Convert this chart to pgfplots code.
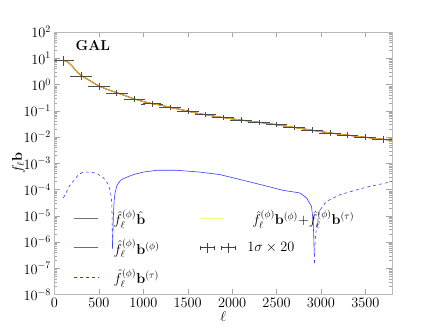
\documentclass[border=0pt]{standalone}
\usepackage{pgfplots}
\pgfplotsset{compat=1.18}
\begin{document}
\begin{tikzpicture}
\definecolor{gold}{RGB}{212,178,36}
\definecolor{paleyel}{RGB}{250,250,120}
\definecolor{taublue}{RGB}{50,60,255}
\path[use as bounding box] (-54.5bp,-32bp) rectangle (381.5bp,294.5bp);
\begin{axis}[
  at={(0,0)}, anchor=south west,
  scale only axis,
  width=337.5bp, height=262.5bp,
  ymode=log,
  xmin=0, xmax=3800,
  ymin=1e-8, ymax=1e2,
  xtick={0,500,...,3500},
  ytick={1e-8,1e-7,1e-6,1e-5,1e-4,1e-3,1e-2,1e-1,1,1e1,1e2},
  /pgf/number format/1000 sep={},
  axis line style={gray!55},
  every tick/.style={gray!70},
  major tick length=5.5bp,
  minor tick length=3bp,
  tick label style={font=\fontsize{14.4}{17}\selectfont},
  label style={font=\fontsize{14.4}{17}\selectfont},
  xlabel={$\ell$},
  ylabel={$f_{\ell}\mathbf{b}$},
  ylabel style={yshift=-8bp},
  xlabel style={yshift=3bp},
  legend columns=2,
  legend cell align=left,
  legend style={draw=none, fill=none, font=\fontsize{14.4}{17}\selectfont,
    inner sep=0pt,
    at={(rel axis cs:0.055,0.33)}, anchor=north west,
    row sep=9bp,
    /tikz/every even column/.append style={column sep=38bp}},
]

% f^(phi) b-hat (black, under the total)
\addplot[black!70, line width=0.9pt, forget plot] coordinates {
(100,8.4) (150,7.2) (200,5.0) (250,3.1) (300,2.2) (350,1.75) (400,1.4) (450,1.1)
(500,0.87) (600,0.64) (700,0.49) (800,0.37) (900,0.28) (1000,0.225) (1100,0.185)
(1200,0.163) (1300,0.135) (1400,0.115) (1500,0.097) (1600,0.081) (1800,0.062)
(2000,0.049) (2200,0.040) (2400,0.033) (2600,0.026) (2800,0.0205) (3000,0.0160)
(3200,0.0129) (3400,0.0107) (3600,0.0089) (3800,0.0075)
};
% f^(phi) b^(phi) (red)
\addplot[red, line width=0.7pt, forget plot] coordinates {
(100,8.4) (150,7.2) (200,5.0) (250,3.1) (300,2.2) (350,1.75) (400,1.4) (450,1.1)
(500,0.87) (600,0.64) (700,0.49) (800,0.37) (900,0.28) (1000,0.225) (1100,0.185)
(1200,0.163) (1300,0.135) (1400,0.115) (1500,0.097) (1600,0.081) (1800,0.062)
(2000,0.049) (2200,0.040) (2400,0.033) (2600,0.026) (2800,0.0205) (3000,0.0160)
(3200,0.0129) (3400,0.0107) (3600,0.0089) (3800,0.0075)
};
% total (gold on top)
\addplot[gold, line width=0.9pt, forget plot] coordinates {
(100,8.4) (150,7.2) (200,5.0) (250,3.1) (300,2.2) (350,1.75) (400,1.4) (450,1.1)
(500,0.87) (600,0.64) (700,0.49) (800,0.37) (900,0.28) (1000,0.225) (1100,0.185)
(1200,0.163) (1300,0.135) (1400,0.115) (1500,0.097) (1600,0.081) (1800,0.062)
(2000,0.049) (2200,0.040) (2400,0.033) (2600,0.026) (2800,0.0205) (3000,0.0160)
(3200,0.0129) (3400,0.0107) (3600,0.0089) (3800,0.0075)
};

% binned data, 1 sigma x 20
\addplot[only marks, mark=*, mark size=0pt, mark options={draw=none, fill=none}, forget plot,
  error bars/.cd, x dir=both, x explicit, y dir=both, y explicit relative,
  error bar style={black!70, line width=0.5pt},
  error mark options={black!70, mark size=2bp}]
coordinates {
(100,8.2) +- (100,0.25)
(300,2.15) +- (100,0.15)
(500,0.85) +- (100,0.10)
(700,0.48) +- (100,0.08)
(900,0.28) +- (100,0.08)
(1100,0.185) +- (100,0.08)
(1300,0.133) +- (100,0.07)
(1500,0.097) +- (100,0.07)
(1700,0.071) +- (100,0.07)
(1900,0.055) +- (100,0.07)
(2100,0.044) +- (100,0.07)
(2300,0.036) +- (100,0.07)
(2500,0.0295) +- (100,0.07)
(2700,0.023) +- (100,0.08)
(2900,0.018) +- (100,0.08)
(3100,0.0145) +- (100,0.08)
(3300,0.0117) +- (100,0.09)
(3500,0.0097) +- (100,0.09)
(3700,0.0080) +- (100,0.10)
};

% f^(phi) b^(tau): positive part solid
\addplot[taublue, line width=0.6pt, forget plot] coordinates {
(652,6e-7) (657,2e-6) (663,9.5e-6) (672,4e-5) (682,7.4e-5) (700,1.35e-4)
(720,1.78e-4) (757,2.4e-4) (820,3.0e-4) (888,3.7e-4) (1000,4.6e-4) (1151,5.4e-4)
(1375,5.4e-4) (1637,4.6e-4) (1862,3.7e-4) (2125,2.24e-4) (2387,1.35e-4)
(2574,9.3e-5) (2762,7.4e-5) (2837,4.8e-5) (2893,2.3e-5) (2911,7.2e-6)
(2919,1.66e-6) (2925,3e-7)
};
% negative part (absolute value) dashed
\addplot[taublue, line width=0.6pt, dashed, forget plot] coordinates {
(100,4.8e-5) (135,8e-5) (170,1.4e-4) (213,2.1e-4) (270,3.7e-4) (326,4.6e-4)
(401,4.6e-4) (476,4.1e-4) (551,2.8e-4) (607,1.55e-4) (633,7.4e-5) (645,3.1e-5)
(650,4e-6) (652,5.5e-7)
};
\addplot[taublue, line width=0.6pt, dashed, forget plot] coordinates {
(2927,1.6e-7) (2935,1.2e-6) (2949,3.5e-6) (2987,1.6e-5) (3061,3.5e-5)
(3211,6.3e-5) (3500,1.2e-4) (3800,2.0e-4)
};

% legend
\addlegendimage{legend image code/.code={\draw[black!55, line width=1.4pt] (0bp,0bp) -- (24bp,0bp);}}
\addlegendentry{\hspace{13bp}$\hat{f}^{(\phi)}_{\ell}\hat{\mathbf{b}}$}
\addlegendimage{legend image code/.code={\draw[paleyel, line width=1.2pt] (0bp,0bp) -- (24bp,0bp);}}
\addlegendentry{\hspace{15bp}$\hat{f}^{(\phi)}_{\ell}\mathbf{b}^{(\phi)}\mathbf{+}\hat{f}^{(\phi)}_{\ell}\mathbf{b}^{(\tau)}$}
\addlegendimage{legend image code/.code={\draw[red!80, line width=0.8pt] (0bp,0bp) -- (24bp,0bp);}}
\addlegendentry{\hspace{13bp}$\hat{f}^{(\phi)}_{\ell}\mathbf{b}^{(\phi)}$}
\addlegendimage{legend image code/.code={
  \foreach \c in {7,28} {
    \draw[black!75, line width=0.5pt] (\c bp-7bp,0bp) -- (\c bp+7bp,0bp);
    \draw[black!75, line width=0.5pt] (\c bp-7bp,-2bp) -- (\c bp-7bp,2bp);
    \draw[black!75, line width=0.5pt] (\c bp+7bp,-2bp) -- (\c bp+7bp,2bp);
    \draw[black!75, line width=0.5pt] (\c bp,-5bp) -- (\c bp,5bp);
  }}}
\addlegendentry{\hspace{10bp}$1\sigma\times 20$}
\addlegendimage{legend image code/.code={\draw[taublue, line width=0.8pt, dashed] (0bp,0bp) -- (24bp,0bp);}}
\addlegendentry{\hspace{13bp}$\hat{f}^{(\phi)}_{\ell}\mathbf{b}^{(\tau)}$}

\node[anchor=west, font=\fontsize{14.4}{17}\selectfont\bfseries] at (rel axis cs:0.052,0.949) {GAL};
\end{axis}
\end{tikzpicture}
\end{document}
